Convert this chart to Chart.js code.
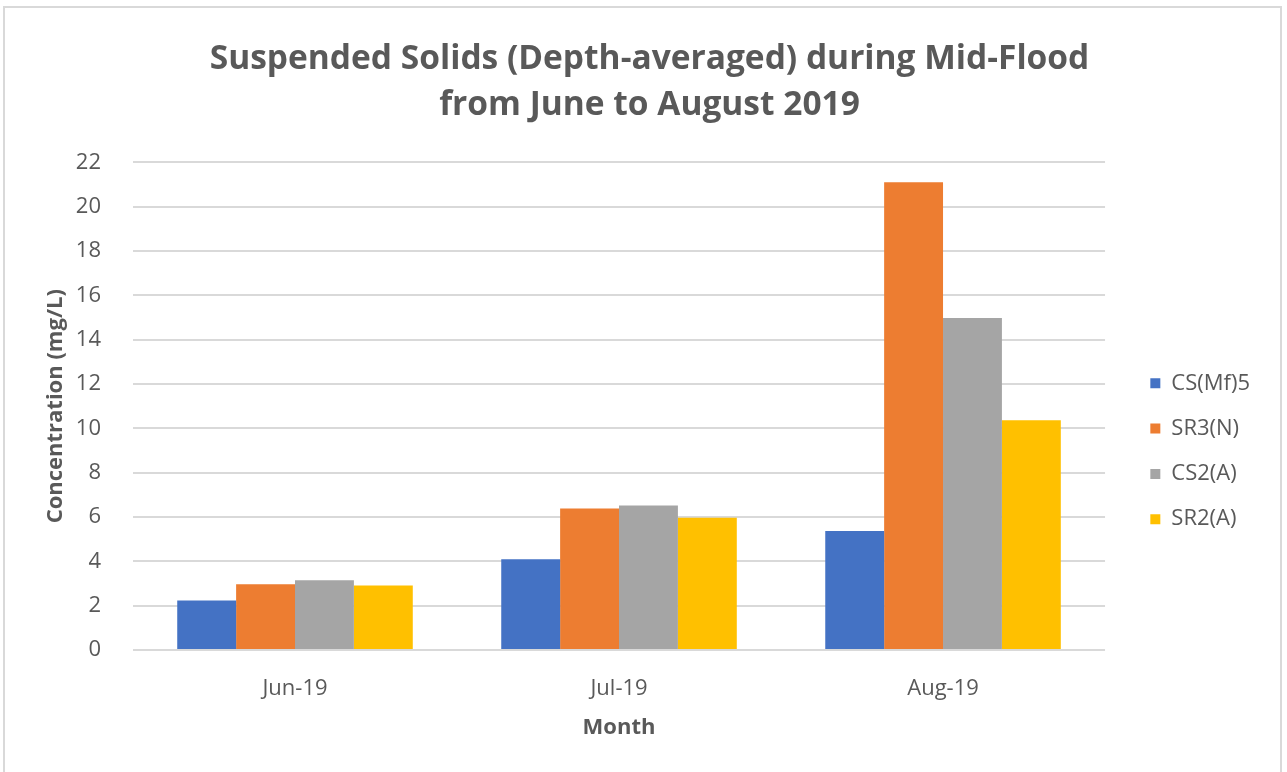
<!DOCTYPE html>
<html>
<head>
<meta charset="utf-8">
<script src="https://cdn.jsdelivr.net/npm/chart.js@4/dist/chart.umd.min.js"></script>
<style>
  html, body { margin: 0; padding: 0; background: #fff; overflow: hidden; }
  #frame {
    position: absolute; left: 3px; top: 6px; width: 1279px; height: 800px;
    box-sizing: border-box; border: 2px solid #d9d9d9; border-bottom: none;
    pointer-events: none;
  }
  #wrap { position: absolute; left: 0; top: 0; width: 1287px; height: 772px; }
</style>
</head>
<body>
<div id="wrap"><canvas id="ssChart" width="1287" height="772"></canvas></div>
<div id="frame"></div>
<script>
// monthly depth-averaged suspended solids, mg/L
const months = ['Jun-19', 'Jul-19', 'Aug-19'];
const csMf5 = [2.23, 4.09, 5.37];
const sr3N = [2.97, 6.39, 21.11];
const cs2A = [3.15, 6.52, 14.98];
const sr2A = [2.91, 5.97, 10.37];
const yTicks = [0, 2, 4, 6, 8, 10, 12, 14, 16, 18, 20, 22];

const txt = '#595959';
const fam = "'Open Sans', sans-serif";

new Chart('ssChart', {
	type: 'bar',
	data: {
		labels: months,
		datasets: [
			{ label: 'CS(Mf)5', data: csMf5, backgroundColor: '#4472C4' },
			{ label: 'SR3(N)', data: sr3N, backgroundColor: '#ED7D31' },
			{ label: 'CS2(A)', data: cs2A, backgroundColor: '#A5A5A5' },
			{ label: 'SR2(A)', data: sr2A, backgroundColor: '#FFC000' }
		]
	},
	options: {
		responsive: false,
		animation: false,
		devicePixelRatio: 1,
		layout: { padding: { left: 39, right: 27, top: 0, bottom: 27 } },
		datasets: { bar: { categoryPercentage: 0.727, barPercentage: 1.0 } },
		plugins: {
			title: {
				display: true,
				text: ['Suspended Solids (Depth-averaged) during Mid-Flood', 'from June to August 2019'],
				color: txt,
				font: { family: fam, size: 33.5, weight: 'bold', lineHeight: 1.38 },
				padding: { top: 36, bottom: 34 }
			},
			legend: {
				position: 'right',
				fullSize: false,
				title: { display: true, text: ' ', font: { size: 10, lineHeight: 1.2 }, padding: { top: 78, bottom: 0 } },
				labels: {
					color: txt,
					font: { family: fam, size: 22 },
					boxWidth: 10,
					boxHeight: 10,
					padding: 23.3
				}
			},
			tooltip: { enabled: false }
		},
		scales: {
			x: {
				grid: { display: false },
				border: { display: false },
				ticks: { color: txt, font: { family: fam, size: 22 }, padding: 18 },
				title: { display: true, text: 'Month', color: txt, font: { family: fam, size: 22, weight: 'bold' } },
				afterFit(s) { s.height = 95; }
			},
			y: {
				min: 0,
				max: 22,
				afterBuildTicks(s) { s.ticks = yTicks.map(v => ({ value: v })); },
				grid: { color: '#d9d9d9', lineWidth: 2, drawTicks: false },
				border: { display: false },
				ticks: { color: txt, font: { family: fam, size: 22 }, padding: 32 },
				title: { display: true, text: 'Concentration (mg/L)', color: txt, font: { family: fam, size: 22, weight: 'bold' } },
				afterFit(s) { s.width = 94; }
			},
			// empty right-hand strip between the plot and the legend
			gap: {
				type: 'linear',
				position: 'right',
				display: true,
				grid: { display: false },
				border: { display: false },
				ticks: { display: false },
				afterFit(s) { s.width = 22; }
			}
		}
	}
});
</script>
</body>
</html>
